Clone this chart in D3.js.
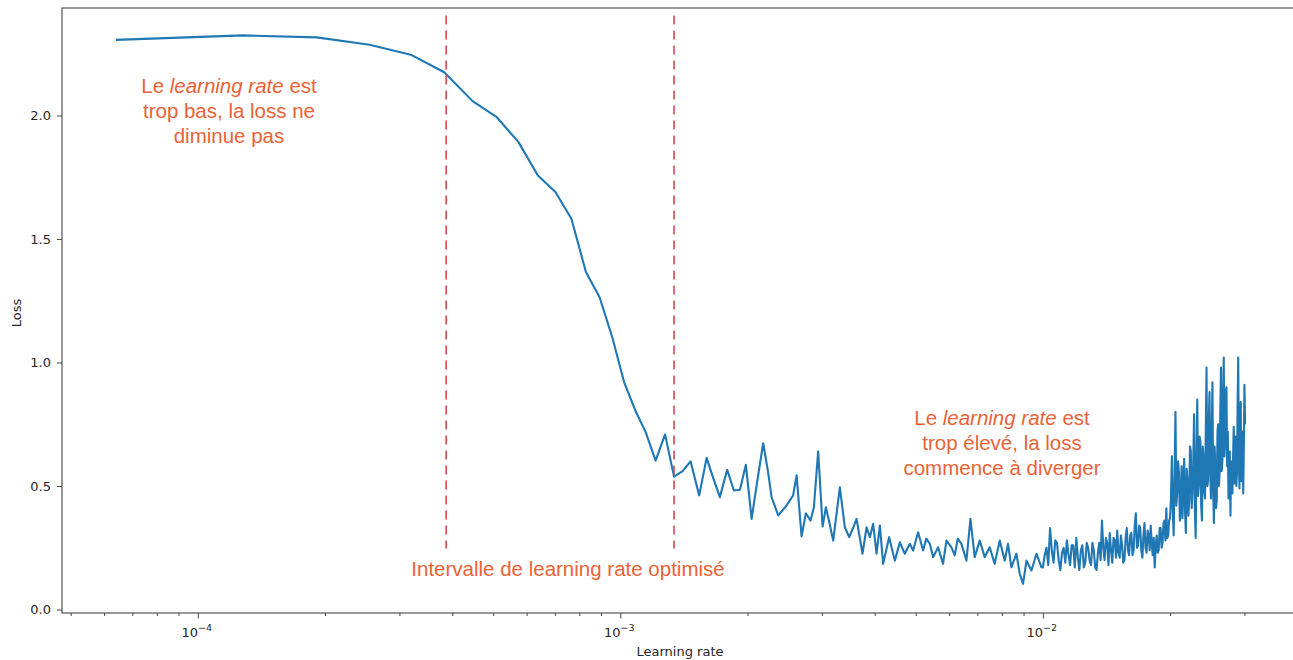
<!DOCTYPE html>
<html>
<head>
<meta charset="utf-8">
<script src="https://cdn.jsdelivr.net/npm/d3@7"></script>
<style>
body { margin: 0; background: #fff; }
svg { display: block; }
</style>
</head>
<body>
<svg id="chart" width="1293" height="660"></svg>
<script>
// learning rate finder: loss, segment by segment
let lrLow = [6.4e-5, 1.28e-4, 1.91e-4, 2.55e-4, 3.19e-4, 3.83e-4, 4.47e-4, 5.10e-4, 5.74e-4, 6.38e-4,
    7.02e-4, 7.66e-4, 8.29e-4, 8.93e-4, 9.57e-4, 1.021e-3, 1.085e-3, 1.148e-3, 1.212e-3, 1.276e-3, 1.340e-3]
let lossLow = [2.306, 2.324, 2.316, 2.286, 2.246, 2.175, 2.058, 1.993, 1.892, 1.757,
    1.690, 1.582, 1.366, 1.264, 1.102, 0.920, 0.806, 0.718, 0.603, 0.709, 0.538]

let lrMid = [0.001404, 0.001466, 0.001537, 0.001600, 0.001661, 0.001720, 0.001790, 0.001857, 0.001919, 0.001982,
    0.002045, 0.002110, 0.002178, 0.002234, 0.002280, 0.002364, 0.002474, 0.002564, 0.002613, 0.002685,
    0.002749, 0.002820, 0.002871, 0.002939, 0.003011, 0.003065, 0.003124, 0.003190, 0.003308, 0.003399,
    0.003480, 0.003551, 0.003623, 0.003743, 0.003826, 0.003896, 0.003966, 0.004040, 0.004114, 0.004188,
    0.004327, 0.004463, 0.004587, 0.004713, 0.004843, 0.004931, 0.005067, 0.005207, 0.005299, 0.005401,
    0.005499, 0.005650, 0.005805, 0.005913, 0.006077, 0.006187, 0.006289, 0.006416, 0.006594, 0.006738,
    0.006898, 0.007088, 0.007285, 0.007485, 0.007692, 0.007906, 0.008124, 0.008271, 0.008425, 0.008659,
    0.008816, 0.008976, 0.009146, 0.009397, 0.009658, 0.009924]
let lossMid = [0.560, 0.600, 0.462, 0.614, 0.530, 0.455, 0.566, 0.482, 0.485, 0.586,
    0.367, 0.522, 0.673, 0.563, 0.455, 0.381, 0.421, 0.462, 0.543, 0.296,
    0.390, 0.360, 0.414, 0.640, 0.336, 0.414, 0.352, 0.279, 0.495, 0.333,
    0.293, 0.328, 0.367, 0.226, 0.333, 0.293, 0.347, 0.226, 0.340, 0.185,
    0.293, 0.198, 0.272, 0.226, 0.266, 0.239, 0.313, 0.239, 0.287, 0.266,
    0.212, 0.252, 0.185, 0.279, 0.252, 0.219, 0.287, 0.266, 0.198, 0.367,
    0.212, 0.279, 0.212, 0.252, 0.185, 0.279, 0.198, 0.266, 0.171, 0.226,
    0.145, 0.104, 0.198, 0.158, 0.226, 0.171]

let lrDense = [0.0100, 0.0101, 0.0102, 0.0103, 0.0104, 0.0105, 0.0106, 0.0107, 0.0108, 0.0109,
    0.0110, 0.0111, 0.0112, 0.0113, 0.0114, 0.0115, 0.0116, 0.0117, 0.0118, 0.0119,
    0.0120, 0.0121, 0.0122, 0.0123, 0.0124, 0.0125, 0.0126, 0.0127, 0.0128, 0.0129,
    0.0130, 0.0131, 0.0132, 0.0133, 0.0134, 0.0135, 0.0136, 0.0137, 0.0138, 0.0139,
    0.0140, 0.0141, 0.0142, 0.0143, 0.0144, 0.0145, 0.0146, 0.0147, 0.0148, 0.0149,
    0.0150, 0.0151, 0.0152, 0.0153, 0.0154, 0.0155, 0.0156, 0.0157, 0.0158, 0.0159,
    0.0160, 0.0161, 0.0162, 0.0163, 0.0164, 0.0165, 0.0166, 0.0167, 0.0168, 0.0169,
    0.0170, 0.0171, 0.0172, 0.0173, 0.0174, 0.0175, 0.0176, 0.0177, 0.0178, 0.0179,
    0.0180, 0.0181, 0.0182, 0.0183, 0.0184, 0.0185, 0.0186, 0.0187, 0.0188, 0.0189,
    0.0190, 0.0191, 0.0192, 0.0193, 0.0194, 0.0195, 0.0196, 0.0197, 0.0198, 0.0199]
let lossDense = [0.17, 0.22, 0.25, 0.18, 0.33, 0.24, 0.19, 0.28, 0.27, 0.20,
    0.16, 0.23, 0.25, 0.19, 0.28, 0.22, 0.18, 0.26, 0.26, 0.17,
    0.29, 0.21, 0.16, 0.24, 0.26, 0.17, 0.19, 0.27, 0.25, 0.20,
    0.18, 0.27, 0.24, 0.17, 0.16, 0.23, 0.27, 0.20, 0.36, 0.25,
    0.20, 0.29, 0.27, 0.18, 0.31, 0.24, 0.19, 0.29, 0.28, 0.21,
    0.32, 0.23, 0.21, 0.30, 0.26, 0.19, 0.20, 0.29, 0.33, 0.24,
    0.22, 0.30, 0.31, 0.22, 0.24, 0.34, 0.39, 0.25, 0.26, 0.34,
    0.33, 0.24, 0.21, 0.30, 0.35, 0.25, 0.23, 0.32, 0.30, 0.24,
    0.34, 0.27, 0.22, 0.29, 0.17, 0.26, 0.30, 0.23, 0.24, 0.33,
    0.33, 0.25, 0.27, 0.35, 0.36, 0.28, 0.41, 0.29, 0.30, 0.36]

let lrHigh = [0.0200, 0.0201, 0.0202, 0.0203, 0.0204, 0.0205, 0.0206, 0.0207, 0.0208, 0.0209,
    0.0210, 0.0211, 0.0212, 0.0213, 0.0214, 0.0215, 0.0216, 0.0217, 0.0218, 0.0219,
    0.0220, 0.0221, 0.0222, 0.0223, 0.0224, 0.0225, 0.0226, 0.0227, 0.0228, 0.0229,
    0.0230, 0.0231, 0.0232, 0.0233, 0.0234, 0.0235, 0.0236, 0.0237, 0.0238, 0.0239,
    0.0240, 0.0241, 0.0242, 0.0243, 0.0244, 0.0245, 0.0246, 0.0247, 0.0248, 0.0249,
    0.0250, 0.0251, 0.0252, 0.0253, 0.0254, 0.0255, 0.0256, 0.0257, 0.0258, 0.0259,
    0.0260, 0.0261, 0.0262, 0.0263, 0.0264, 0.0265, 0.0266, 0.0267, 0.0268, 0.0269,
    0.0270, 0.0271, 0.0272, 0.0273, 0.0274, 0.0275, 0.0276, 0.0277, 0.0278, 0.0279,
    0.0280, 0.0281, 0.0282, 0.0283, 0.0284, 0.0285, 0.0286, 0.0287, 0.0288, 0.0289,
    0.0290, 0.0291, 0.0292, 0.0293, 0.0294, 0.0295, 0.0296, 0.0297, 0.0298, 0.0299,
    0.0300, 0.0301]
let lossHigh = [0.37, 0.45, 0.62, 0.40, 0.30, 0.55, 0.80, 0.42, 0.48, 0.60,
    0.55, 0.36, 0.42, 0.58, 0.37, 0.49, 0.61, 0.40, 0.31, 0.57,
    0.52, 0.38, 0.44, 0.66, 0.64, 0.41, 0.47, 0.60, 0.79, 0.40,
    0.29, 0.62, 0.85, 0.46, 0.50, 0.70, 0.68, 0.42, 0.36, 0.66,
    0.62, 0.48, 0.45, 0.72, 0.98, 0.50, 0.52, 0.76, 0.88, 0.55,
    0.45, 0.70, 0.92, 0.48, 0.35, 0.66, 0.58, 0.41, 0.44, 0.72,
    0.75, 0.50, 0.55, 0.80, 0.98, 0.56, 0.60, 0.84, 1.02, 0.62,
    0.68, 0.88, 0.90, 0.58, 0.72, 0.45, 0.52, 0.64, 0.38, 0.60,
    0.58, 0.47, 0.62, 0.74, 0.51, 0.63, 0.70, 0.50, 0.55, 0.82,
    1.02, 0.60, 0.49, 0.78, 0.84, 0.52, 0.58, 0.72, 0.47, 0.66,
    0.91, 0.75]

let yTicks = [0.0, 0.5, 1.0, 1.5, 2.0]
let xMajor = [1e-4, 1e-3, 1e-2]
let xExponents = ['\u22124', '\u22123', '\u22122']
let xMinor = [5e-5, 6e-5, 7e-5, 8e-5, 9e-5,
    2e-4, 3e-4, 4e-4, 5e-4, 6e-4, 7e-4, 8e-4, 9e-4,
    2e-3, 3e-3, 4e-3, 5e-3, 6e-3, 7e-3, 8e-3, 9e-3,
    2e-2, 3e-2, 4e-2]
let cutoffs = [3.87e-4, 1.34e-3]

let zip = (xs, ys) => xs.map((v, i) => ({lr: v, loss: ys[i]}))
let points = [].concat(zip(lrLow, lossLow), zip(lrMid, lossMid), zip(lrDense, lossDense), zip(lrHigh, lossHigh))

let svg = d3.select('#chart')
let axisFont = '"DejaVu Sans", sans-serif'
let noteFont = '"Liberation Sans", Arial, sans-serif'
let noteColor = '#ec6235'

// plot box runs past the right edge of the picture, as in the original
let x = d3.scaleLog().domain([4.77e-5, 0.04083]).range([62, 1301])
let y = d3.scaleLinear().domain([-0.014, 2.435]).range([613, 8])

// y axis
let yAxis = svg.append('g')
    .attr('transform', 'translate(62,0)')
    .call(d3.axisLeft(y).tickValues(yTicks).tickFormat(d3.format('.1f')).tickSize(5).tickPadding(6).tickSizeOuter(0))
yAxis.select('.domain').remove()

// x axis, minor then major ticks
let xMinorAxis = svg.append('g')
    .attr('transform', 'translate(0,613)')
    .call(d3.axisBottom(x).tickValues(xMinor).tickFormat('').tickSize(3).tickSizeOuter(0))
xMinorAxis.select('.domain').remove()
let xAxis = svg.append('g')
    .attr('transform', 'translate(0,613)')
    .call(d3.axisBottom(x).tickValues(xMajor).tickFormat('').tickSize(5.5).tickSizeOuter(0))
xAxis.select('.domain').remove()

svg.selectAll('.tick line').attr('stroke', '#333').attr('stroke-width', 0.9)
svg.selectAll('.tick text').attr('font-family', axisFont).attr('font-size', 13).attr('fill', '#262626')

let expLabels = svg.append('g')
    .selectAll('text')
    .data(xMajor)
    .enter()
    .append('text')
    .attr('x', d => x(d) - 1)
    .attr('y', 637)
    .attr('text-anchor', 'middle')
    .attr('font-family', axisFont)
    .attr('font-size', 13)
    .attr('fill', '#262626')
expLabels.append('tspan').text('10')
expLabels.append('tspan')
    .attr('dy', -6)
    .attr('font-size', 9.5)
    .text((d, i) => xExponents[i])

// frame
svg.append('rect')
    .attr('x', 62).attr('y', 8)
    .attr('width', 1239).attr('height', 605)
    .attr('fill', 'none')
    .attr('stroke', '#333')
    .attr('stroke-width', 1)

// loss curve
svg.append('path')
    .datum(points)
    .attr('fill', 'none')
    .attr('stroke', '#1f77b4')
    .attr('stroke-width', 2.1)
    .attr('stroke-linejoin', 'round')
    .attr('d', d3.line().x(d => x(d.lr)).y(d => y(d.loss)))

// red dashed bounds of the good interval
svg.selectAll('.cutoff')
    .data(cutoffs)
    .enter()
    .append('line')
    .attr('class', 'cutoff')
    .attr('x1', d => x(d)).attr('x2', d => x(d))
    .attr('y1', y(2.405)).attr('y2', y(0.247))
    .attr('stroke', '#d9484f')
    .attr('stroke-width', 1.6)
    .attr('stroke-dasharray', '9,6')

// axis labels
svg.append('text')
    .attr('x', 680).attr('y', 656)
    .attr('text-anchor', 'middle')
    .attr('font-family', axisFont).attr('font-size', 13).attr('fill', '#262626')
    .text('Learning rate')
svg.append('text')
    .attr('transform', 'translate(21,313) rotate(-90)')
    .attr('text-anchor', 'middle')
    .attr('font-family', axisFont).attr('font-size', 13).attr('fill', '#262626')
    .text('Loss')

// annotations
let note = (cx, y0, lines) => {
    lines.forEach((parts, i) => {
        let t = svg.append('text')
            .attr('x', cx).attr('y', y0 + i * 25)
            .attr('text-anchor', 'middle')
            .attr('font-family', noteFont)
            .attr('font-size', 20.5)
            .attr('fill', noteColor)
        parts.forEach(p => {
            t.append('tspan')
                .attr('font-style', p[1] ? 'italic' : 'normal')
                .text(p[0])
        })
    })
}

note(229, 92.5, [
    [['Le ', 0], ['learning rate', 1], [' est', 0]],
    [['trop bas, la loss ne', 0]],
    [['diminue pas', 0]]
])
note(1002, 424.5, [
    [['Le ', 0], ['learning rate', 1], [' est', 0]],
    [['trop élevé, la loss', 0]],
    [['commence à diverger', 0]]
])
note(568, 576, [
    [['Intervalle de learning rate optimisé', 0]]
])
</script>
</body>
</html>
